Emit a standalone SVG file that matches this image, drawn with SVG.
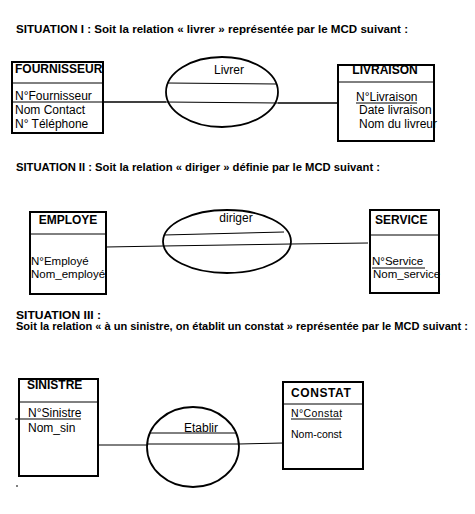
<svg xmlns="http://www.w3.org/2000/svg" width="475" height="514" viewBox="0 0 475 514">
<style>
.t{font-family:"Liberation Sans",Arial,sans-serif;font-weight:bold;font-size:10.5px;fill:#000}
.h{font-family:"Liberation Sans",Arial,sans-serif;font-weight:bold;font-size:12px;fill:#000}
.a{font-family:"Liberation Sans",Arial,sans-serif;font-size:12px;fill:#000}
.b{font-family:"Liberation Sans",Arial,sans-serif;font-size:11.5px;fill:#000}
.s{font-family:"Liberation Sans",Arial,sans-serif;font-size:10.5px;fill:#000}
.box{fill:none;stroke:#000;stroke-width:2}
.ell{fill:none;stroke:#000;stroke-width:1.8}
.ln{stroke:#000;stroke-width:1;fill:none}
.lnb{stroke:#000;stroke-width:1.6;fill:none}
</style>
<rect width="475" height="514" fill="#fff"/>
<text class="t" x="16" y="33" textLength="392" lengthAdjust="spacingAndGlyphs">SITUATION I : Soit la relation « livrer » représentée par le MCD suivant :</text>
<text class="t" x="16" y="171" textLength="364" lengthAdjust="spacingAndGlyphs">SITUATION II : Soit la relation « diriger » définie par le MCD suivant :</text>
<text class="t" x="16" y="319" textLength="85" lengthAdjust="spacingAndGlyphs">SITUATION III :</text>
<text class="t" x="16" y="330" textLength="452" lengthAdjust="spacingAndGlyphs">Soit la relation « à un sinistre, on établit un constat » représentée par le MCD suivant :</text>

<g id="connectors">
<line class="lnb" x1="103" y1="102" x2="166" y2="102"/>
<line class="ln" x1="166" y1="102" x2="278" y2="103"/>
<line class="lnb" x1="278" y1="103" x2="338" y2="103"/>
<line class="ln" x1="106" y1="247" x2="163" y2="246"/>
<line class="ln" x1="163" y1="246" x2="291" y2="244"/>
<line class="ln" x1="291" y1="244" x2="368" y2="243"/>
<line class="ln" x1="98" y1="445" x2="147" y2="445"/>
<line class="ln" x1="147" y1="444" x2="239" y2="444"/>
<line class="ln" x1="239" y1="444" x2="283" y2="443"/>
</g>

<g id="fournisseur">
<rect class="box" x="12" y="62" width="91" height="71"/>
<text class="h" x="15" y="73">FOURNISSEUR</text>
<line class="ln" x1="12" y1="83" x2="103" y2="83"/>
<text class="a" x="15" y="100">N°Fournisseur</text>
<line class="ln" x1="12" y1="102" x2="103" y2="102"/>
<text class="a" x="15" y="114">Nom Contact</text>
<text class="a" x="15" y="128">N° Téléphone</text>
</g>

<g id="livrer">
<ellipse class="ell" cx="222" cy="92" rx="56" ry="35"/>
<text class="a" x="229" y="74" text-anchor="middle">Livrer</text>
<line class="ln" x1="167" y1="83" x2="277" y2="84"/>
</g>

<g id="livraison">
<rect class="box" x="338" y="65" width="96" height="76"/>
<text class="h" x="385" y="74" text-anchor="middle">LIVRAISON</text>
<line class="ln" x1="338" y1="82" x2="434" y2="82"/>
<text class="a" x="356" y="101">N°Livraison</text>
<line class="ln" x1="356" y1="103" x2="417" y2="103"/>
<text class="a" x="359" y="114">Date livraison</text>
<text class="a" x="359" y="128">Nom du livreur</text>
</g>

<g id="employe">
<rect class="box" x="30" y="212" width="76" height="82"/>
<text class="h" x="68" y="224" text-anchor="middle">EMPLOYE</text>
<line class="ln" x1="30" y1="234" x2="106" y2="234"/>
<text class="b" x="31" y="265">N°Employé</text>
<text class="b" x="31" y="278">Nom_employé</text>
</g>

<g id="diriger">
<ellipse class="ell" cx="227" cy="241.5" rx="64" ry="31.5"/>
<text class="a" x="236" y="222" text-anchor="middle">diriger</text>
<line class="ln" x1="164" y1="235" x2="284" y2="232"/>
</g>

<g id="service">
<rect class="box" x="370" y="210" width="69" height="83"/>
<text class="h" x="375" y="224">SERVICE</text>
<line class="ln" x1="370" y1="235" x2="439" y2="235"/>
<text class="b" x="372" y="265">N°Service</text>
<line class="ln" x1="372" y1="268" x2="425" y2="268"/>
<text class="b" x="373" y="278">Nom_service</text>
</g>

<g id="sinistre">
<rect class="box" x="19" y="379" width="79" height="97"/>
<text class="h" x="27" y="389">SINISTRE</text>
<line class="ln" x1="19" y1="402" x2="98" y2="402"/>
<text class="a" x="28" y="417">N°Sinistre</text>
<line class="ln" x1="15" y1="419" x2="81" y2="419"/>
<text class="a" x="28" y="432">Nom_sin</text>
<line class="ln" x1="16" y1="486" x2="18" y2="486"/>
</g>

<g id="etablir">
<ellipse class="ell" cx="193" cy="447" rx="46" ry="40"/>
<text class="a" x="201" y="432" text-anchor="middle">Etablir</text>
<line class="ln" x1="150" y1="433" x2="237" y2="433"/>
</g>

<g id="constat">
<rect class="box" x="283" y="382" width="80" height="87"/>
<text class="h" x="291" y="397" font-size="11" letter-spacing="0.6">CONSTAT</text>
<line class="ln" x1="283" y1="404" x2="363" y2="404"/>
<text class="s" x="291" y="417" letter-spacing="0.4">N°Constat</text>
<line class="ln" x1="291" y1="419" x2="341" y2="419"/>
<text class="s" x="291" y="438">Nom-const</text>
</g>
</svg>
